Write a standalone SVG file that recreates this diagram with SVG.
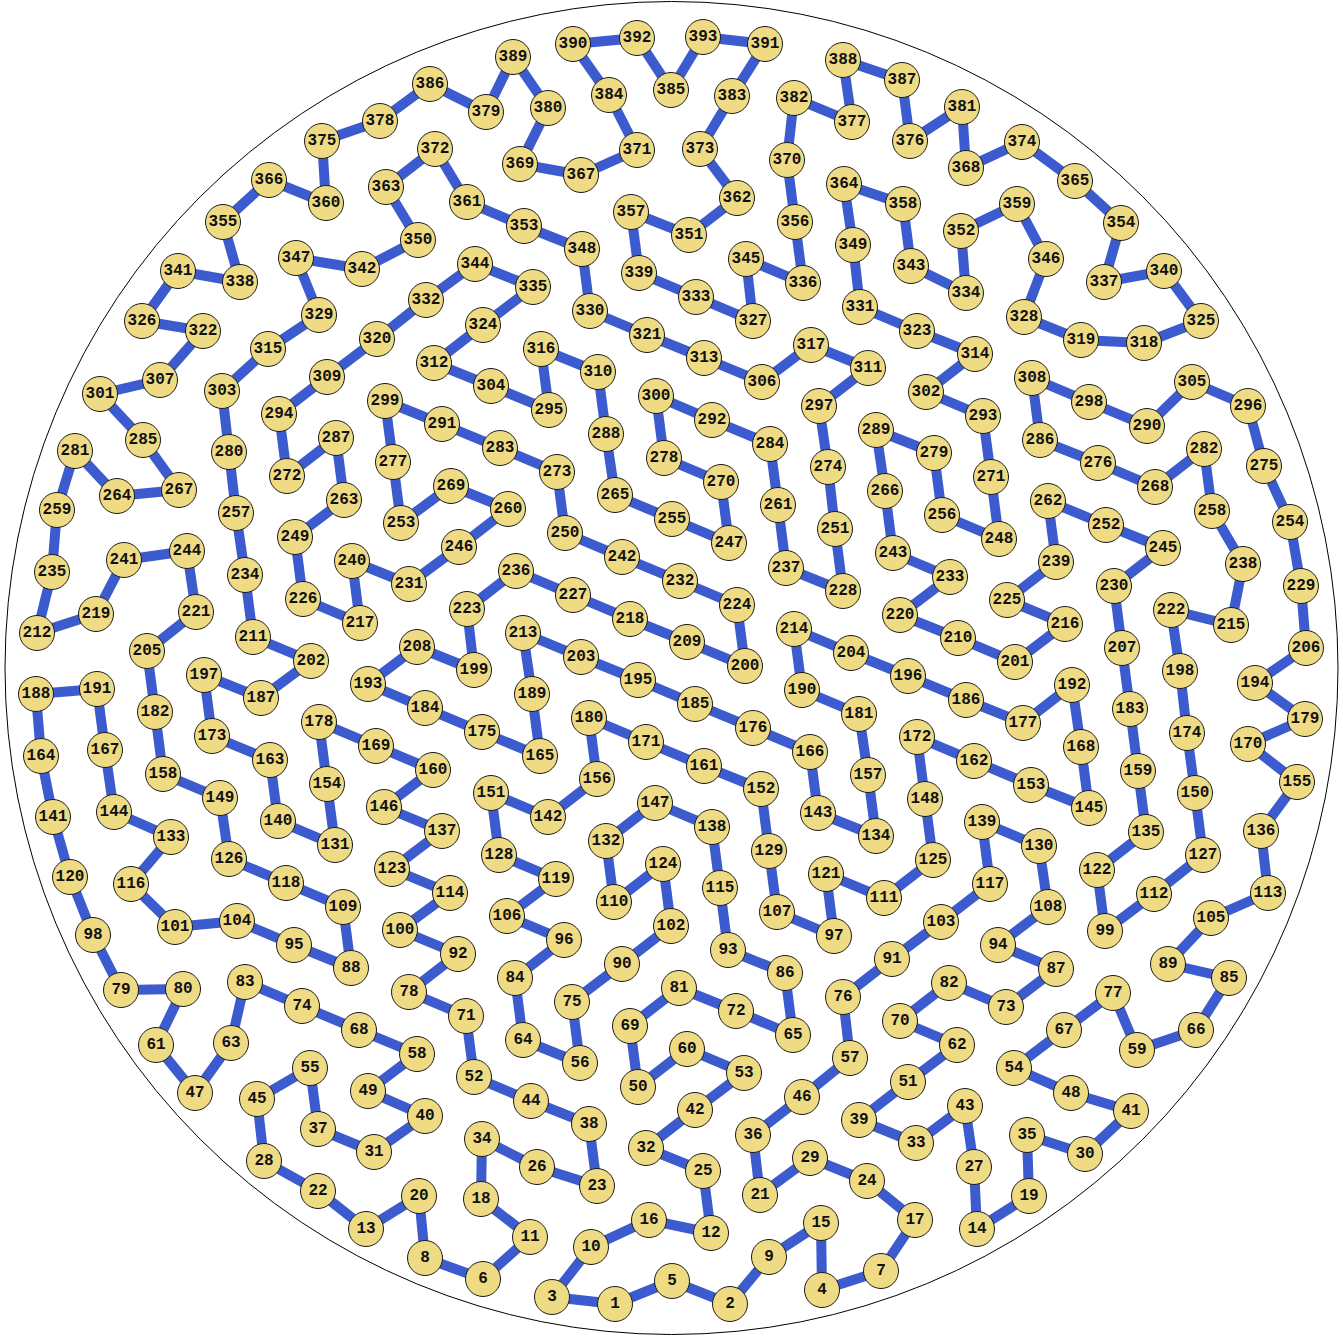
<svg xmlns="http://www.w3.org/2000/svg" width="1343" height="1336" viewBox="0 0 1343 1336">
<style>
.e line{stroke:#3b5bcf;stroke-width:10}
.n circle{fill:#efdb83;stroke:#1a1a1a;stroke-width:1}
.n text{font-family:"Liberation Mono","DejaVu Sans Mono",monospace;font-weight:bold;font-size:16px;text-anchor:middle;dominant-baseline:central;fill:#111}
</style>
<rect width="1343" height="1336" fill="#fff"/>
<circle cx="671.5" cy="668" r="666.5" fill="none" stroke="#000" stroke-width="1"/>
<g id="connectors" class="e">
<line x1="552" y1="1297" x2="615" y2="1304"/><line x1="615" y1="1304" x2="672" y2="1281"/><line x1="672" y1="1281" x2="730" y2="1304"/><line x1="730" y1="1304" x2="769" y2="1257"/><line x1="769" y1="1257" x2="821" y2="1223"/><line x1="821" y1="1223" x2="822" y2="1290"/><line x1="822" y1="1290" x2="881" y2="1271"/><line x1="881" y1="1271" x2="915" y2="1220"/><line x1="915" y1="1220" x2="867" y2="1181"/><line x1="867" y1="1181" x2="810" y2="1158"/>
<line x1="810" y1="1158" x2="760" y2="1195"/><line x1="760" y1="1195" x2="753" y2="1135"/><line x1="753" y1="1135" x2="802" y2="1097"/><line x1="802" y1="1097" x2="850" y2="1058"/><line x1="850" y1="1058" x2="843" y2="997"/><line x1="843" y1="997" x2="892" y2="959"/><line x1="892" y1="959" x2="941" y2="922"/><line x1="941" y1="922" x2="990" y2="884"/><line x1="990" y1="884" x2="982" y2="822"/><line x1="982" y1="822" x2="1039" y2="846"/>
<line x1="1039" y1="846" x2="1048" y2="907"/><line x1="1048" y1="907" x2="998" y2="945"/><line x1="998" y1="945" x2="1056" y2="969"/><line x1="1056" y1="969" x2="1006" y2="1007"/><line x1="1006" y1="1007" x2="949" y2="983"/><line x1="949" y1="983" x2="900" y2="1021"/><line x1="900" y1="1021" x2="957" y2="1045"/><line x1="957" y1="1045" x2="908" y2="1082"/><line x1="908" y1="1082" x2="859" y2="1120"/><line x1="859" y1="1120" x2="916" y2="1143"/>
<line x1="916" y1="1143" x2="965" y2="1106"/><line x1="965" y1="1106" x2="974" y2="1167"/><line x1="974" y1="1167" x2="977" y2="1229"/><line x1="977" y1="1229" x2="1029" y2="1196"/><line x1="1029" y1="1196" x2="1027" y2="1135"/><line x1="1027" y1="1135" x2="1085" y2="1154"/><line x1="1085" y1="1154" x2="1131" y2="1111"/><line x1="1131" y1="1111" x2="1071" y2="1093"/><line x1="1071" y1="1093" x2="1014" y2="1068"/><line x1="1014" y1="1068" x2="1064" y2="1030"/>
<line x1="1064" y1="1030" x2="1113" y2="993"/><line x1="1113" y1="993" x2="1137" y2="1050"/><line x1="1137" y1="1050" x2="1196" y2="1030"/><line x1="1196" y1="1030" x2="1229" y2="978"/><line x1="1229" y1="978" x2="1168" y2="964"/><line x1="1168" y1="964" x2="1211" y2="918"/><line x1="1211" y1="918" x2="1268" y2="893"/><line x1="1268" y1="893" x2="1261" y2="831"/><line x1="1261" y1="831" x2="1297" y2="782"/><line x1="1297" y1="782" x2="1248" y2="744"/>
<line x1="1248" y1="744" x2="1305" y2="719"/><line x1="1305" y1="719" x2="1255" y2="683"/><line x1="1255" y1="683" x2="1306" y2="648"/><line x1="1306" y1="648" x2="1301" y2="586"/><line x1="1301" y1="586" x2="1290" y2="522"/><line x1="1290" y1="522" x2="1264" y2="466"/><line x1="1264" y1="466" x2="1248" y2="406"/><line x1="1248" y1="406" x2="1192" y2="382"/><line x1="1192" y1="382" x2="1147" y2="426"/><line x1="1147" y1="426" x2="1089" y2="402"/>
<line x1="1089" y1="402" x2="1032" y2="378"/><line x1="1032" y1="378" x2="1040" y2="440"/><line x1="1040" y1="440" x2="1098" y2="463"/><line x1="1098" y1="463" x2="1155" y2="487"/><line x1="1155" y1="487" x2="1204" y2="449"/><line x1="1204" y1="449" x2="1212" y2="511"/><line x1="1212" y1="511" x2="1243" y2="564"/><line x1="1243" y1="564" x2="1231" y2="625"/><line x1="1231" y1="625" x2="1171" y2="610"/><line x1="1171" y1="610" x2="1180" y2="671"/>
<line x1="1180" y1="671" x2="1187" y2="733"/><line x1="1187" y1="733" x2="1195" y2="793"/><line x1="1195" y1="793" x2="1203" y2="855"/><line x1="1203" y1="855" x2="1154" y2="894"/><line x1="1154" y1="894" x2="1105" y2="931"/><line x1="1105" y1="931" x2="1097" y2="870"/><line x1="1097" y1="870" x2="1146" y2="832"/><line x1="1146" y1="832" x2="1138" y2="771"/><line x1="1138" y1="771" x2="1130" y2="709"/><line x1="1130" y1="709" x2="1122" y2="648"/>
<line x1="1122" y1="648" x2="1114" y2="586"/><line x1="1114" y1="586" x2="1163" y2="548"/><line x1="1163" y1="548" x2="1106" y2="525"/><line x1="1106" y1="525" x2="1048" y2="501"/><line x1="1048" y1="501" x2="1056" y2="562"/><line x1="1056" y1="562" x2="1007" y2="600"/><line x1="1007" y1="600" x2="1065" y2="624"/><line x1="1065" y1="624" x2="1015" y2="662"/><line x1="1015" y1="662" x2="958" y2="638"/><line x1="958" y1="638" x2="900" y2="615"/>
<line x1="900" y1="615" x2="950" y2="577"/><line x1="950" y1="577" x2="893" y2="553"/><line x1="893" y1="553" x2="885" y2="491"/><line x1="885" y1="491" x2="876" y2="430"/><line x1="876" y1="430" x2="934" y2="453"/><line x1="934" y1="453" x2="942" y2="515"/><line x1="942" y1="515" x2="999" y2="539"/><line x1="999" y1="539" x2="991" y2="477"/><line x1="991" y1="477" x2="983" y2="416"/><line x1="983" y1="416" x2="926" y2="392"/>
<line x1="926" y1="392" x2="975" y2="354"/><line x1="975" y1="354" x2="917" y2="331"/><line x1="917" y1="331" x2="860" y2="307"/><line x1="860" y1="307" x2="853" y2="245"/><line x1="853" y1="245" x2="844" y2="184"/><line x1="844" y1="184" x2="903" y2="204"/><line x1="903" y1="204" x2="911" y2="266"/><line x1="911" y1="266" x2="966" y2="293"/><line x1="966" y1="293" x2="961" y2="231"/><line x1="961" y1="231" x2="1017" y2="204"/>
<line x1="1017" y1="204" x2="1046" y2="259"/><line x1="1046" y1="259" x2="1024" y2="317"/><line x1="1024" y1="317" x2="1081" y2="340"/><line x1="1081" y1="340" x2="1144" y2="343"/><line x1="1144" y1="343" x2="1201" y2="321"/><line x1="1201" y1="321" x2="1164" y2="271"/><line x1="1164" y1="271" x2="1104" y2="282"/><line x1="1104" y1="282" x2="1121" y2="223"/><line x1="1121" y1="223" x2="1075" y2="181"/><line x1="1075" y1="181" x2="1022" y2="142"/>
<line x1="1022" y1="142" x2="966" y2="168"/><line x1="966" y1="168" x2="962" y2="107"/><line x1="962" y1="107" x2="910" y2="141"/><line x1="910" y1="141" x2="902" y2="80"/><line x1="902" y1="80" x2="843" y2="60"/><line x1="843" y1="60" x2="852" y2="122"/><line x1="852" y1="122" x2="794" y2="98"/><line x1="794" y1="98" x2="787" y2="160"/><line x1="787" y1="160" x2="795" y2="222"/><line x1="795" y1="222" x2="803" y2="283"/>
<line x1="803" y1="283" x2="746" y2="259"/><line x1="746" y1="259" x2="753" y2="321"/><line x1="753" y1="321" x2="696" y2="297"/><line x1="696" y1="297" x2="639" y2="273"/><line x1="639" y1="273" x2="631" y2="212"/><line x1="631" y1="212" x2="689" y2="235"/><line x1="689" y1="235" x2="737" y2="198"/><line x1="737" y1="198" x2="700" y2="149"/><line x1="700" y1="149" x2="732" y2="96"/><line x1="732" y1="96" x2="765" y2="44"/>
<line x1="765" y1="44" x2="703" y2="37"/><line x1="703" y1="37" x2="671" y2="90"/><line x1="671" y1="90" x2="637" y2="38"/><line x1="637" y1="38" x2="573" y2="44"/><line x1="573" y1="44" x2="609" y2="95"/><line x1="609" y1="95" x2="637" y2="150"/><line x1="637" y1="150" x2="581" y2="175"/><line x1="581" y1="175" x2="520" y2="164"/><line x1="520" y1="164" x2="548" y2="108"/><line x1="548" y1="108" x2="513" y2="57"/>
<line x1="513" y1="57" x2="486" y2="112"/><line x1="486" y1="112" x2="430" y2="84"/><line x1="430" y1="84" x2="380" y2="121"/><line x1="380" y1="121" x2="322" y2="141"/><line x1="322" y1="141" x2="326" y2="203"/><line x1="326" y1="203" x2="269" y2="180"/><line x1="269" y1="180" x2="223" y2="222"/><line x1="223" y1="222" x2="240" y2="282"/><line x1="240" y1="282" x2="178" y2="271"/><line x1="178" y1="271" x2="142" y2="321"/>
<line x1="142" y1="321" x2="203" y2="331"/><line x1="203" y1="331" x2="160" y2="380"/><line x1="160" y1="380" x2="100" y2="394"/><line x1="100" y1="394" x2="143" y2="440"/><line x1="143" y1="440" x2="179" y2="490"/><line x1="179" y1="490" x2="117" y2="496"/><line x1="117" y1="496" x2="75" y2="451"/><line x1="75" y1="451" x2="57" y2="510"/><line x1="57" y1="510" x2="52" y2="572"/><line x1="52" y1="572" x2="37" y2="633"/>
<line x1="37" y1="633" x2="96" y2="614"/><line x1="96" y1="614" x2="124" y2="560"/><line x1="124" y1="560" x2="187" y2="551"/><line x1="187" y1="551" x2="196" y2="612"/><line x1="196" y1="612" x2="147" y2="651"/><line x1="147" y1="651" x2="155" y2="712"/><line x1="155" y1="712" x2="163" y2="774"/><line x1="163" y1="774" x2="220" y2="798"/><line x1="220" y1="798" x2="229" y2="859"/><line x1="229" y1="859" x2="286" y2="883"/>
<line x1="286" y1="883" x2="343" y2="907"/><line x1="343" y1="907" x2="351" y2="968"/><line x1="351" y1="968" x2="294" y2="945"/><line x1="294" y1="945" x2="237" y2="921"/><line x1="237" y1="921" x2="175" y2="927"/><line x1="175" y1="927" x2="131" y2="884"/><line x1="131" y1="884" x2="171" y2="837"/><line x1="171" y1="837" x2="114" y2="812"/><line x1="114" y1="812" x2="105" y2="750"/><line x1="105" y1="750" x2="97" y2="689"/>
<line x1="97" y1="689" x2="36" y2="694"/><line x1="36" y1="694" x2="41" y2="756"/><line x1="41" y1="756" x2="53" y2="817"/><line x1="53" y1="817" x2="70" y2="877"/><line x1="70" y1="877" x2="93" y2="935"/><line x1="93" y1="935" x2="121" y2="990"/><line x1="121" y1="990" x2="183" y2="989"/><line x1="183" y1="989" x2="156" y2="1045"/><line x1="156" y1="1045" x2="195" y2="1093"/><line x1="195" y1="1093" x2="231" y2="1043"/>
<line x1="231" y1="1043" x2="245" y2="982"/><line x1="245" y1="982" x2="302" y2="1006"/><line x1="302" y1="1006" x2="359" y2="1030"/><line x1="359" y1="1030" x2="417" y2="1054"/><line x1="417" y1="1054" x2="368" y2="1091"/><line x1="368" y1="1091" x2="425" y2="1116"/><line x1="425" y1="1116" x2="374" y2="1152"/><line x1="374" y1="1152" x2="318" y2="1129"/><line x1="318" y1="1129" x2="310" y2="1068"/><line x1="310" y1="1068" x2="257" y2="1099"/>
<line x1="257" y1="1099" x2="264" y2="1161"/><line x1="264" y1="1161" x2="318" y2="1191"/><line x1="318" y1="1191" x2="366" y2="1229"/><line x1="366" y1="1229" x2="419" y2="1196"/><line x1="419" y1="1196" x2="425" y2="1258"/><line x1="425" y1="1258" x2="483" y2="1279"/><line x1="483" y1="1279" x2="530" y2="1237"/><line x1="530" y1="1237" x2="481" y2="1199"/><line x1="481" y1="1199" x2="482" y2="1139"/><line x1="482" y1="1139" x2="537" y2="1167"/>
<line x1="537" y1="1167" x2="597" y2="1186"/><line x1="597" y1="1186" x2="589" y2="1124"/><line x1="589" y1="1124" x2="531" y2="1101"/><line x1="531" y1="1101" x2="474" y2="1077"/><line x1="474" y1="1077" x2="466" y2="1016"/><line x1="466" y1="1016" x2="409" y2="992"/><line x1="409" y1="992" x2="458" y2="954"/><line x1="458" y1="954" x2="400" y2="930"/><line x1="400" y1="930" x2="450" y2="893"/><line x1="450" y1="893" x2="392" y2="869"/>
<line x1="392" y1="869" x2="442" y2="831"/><line x1="442" y1="831" x2="384" y2="807"/><line x1="384" y1="807" x2="433" y2="770"/><line x1="433" y1="770" x2="376" y2="746"/><line x1="376" y1="746" x2="319" y2="722"/><line x1="319" y1="722" x2="327" y2="784"/><line x1="327" y1="784" x2="335" y2="845"/><line x1="335" y1="845" x2="278" y2="821"/><line x1="278" y1="821" x2="270" y2="760"/><line x1="270" y1="760" x2="212" y2="736"/>
<line x1="212" y1="736" x2="204" y2="675"/><line x1="204" y1="675" x2="261" y2="698"/><line x1="261" y1="698" x2="311" y2="661"/><line x1="311" y1="661" x2="253" y2="637"/><line x1="253" y1="637" x2="245" y2="575"/><line x1="245" y1="575" x2="236" y2="513"/><line x1="236" y1="513" x2="229" y2="452"/><line x1="229" y1="452" x2="222" y2="391"/><line x1="222" y1="391" x2="268" y2="349"/><line x1="268" y1="349" x2="319" y2="315"/>
<line x1="319" y1="315" x2="296" y2="258"/><line x1="296" y1="258" x2="362" y2="269"/><line x1="362" y1="269" x2="418" y2="240"/><line x1="418" y1="240" x2="386" y2="187"/><line x1="386" y1="187" x2="435" y2="149"/><line x1="435" y1="149" x2="467" y2="202"/><line x1="467" y1="202" x2="524" y2="226"/><line x1="524" y1="226" x2="582" y2="249"/><line x1="582" y1="249" x2="590" y2="311"/><line x1="590" y1="311" x2="647" y2="335"/>
<line x1="647" y1="335" x2="704" y2="358"/><line x1="704" y1="358" x2="762" y2="382"/><line x1="762" y1="382" x2="811" y2="345"/><line x1="811" y1="345" x2="868" y2="368"/><line x1="868" y1="368" x2="819" y2="406"/><line x1="819" y1="406" x2="828" y2="467"/><line x1="828" y1="467" x2="835" y2="529"/><line x1="835" y1="529" x2="843" y2="591"/><line x1="843" y1="591" x2="786" y2="568"/><line x1="786" y1="568" x2="778" y2="505"/>
<line x1="778" y1="505" x2="770" y2="444"/><line x1="770" y1="444" x2="712" y2="420"/><line x1="712" y1="420" x2="656" y2="396"/><line x1="656" y1="396" x2="664" y2="458"/><line x1="664" y1="458" x2="721" y2="482"/><line x1="721" y1="482" x2="729" y2="543"/><line x1="729" y1="543" x2="672" y2="519"/><line x1="672" y1="519" x2="615" y2="495"/><line x1="615" y1="495" x2="606" y2="434"/><line x1="606" y1="434" x2="598" y2="372"/>
<line x1="598" y1="372" x2="541" y2="349"/><line x1="541" y1="349" x2="549" y2="410"/><line x1="549" y1="410" x2="491" y2="386"/><line x1="491" y1="386" x2="434" y2="363"/><line x1="434" y1="363" x2="483" y2="325"/><line x1="483" y1="325" x2="533" y2="287"/><line x1="533" y1="287" x2="475" y2="264"/><line x1="475" y1="264" x2="426" y2="300"/><line x1="426" y1="300" x2="377" y2="339"/><line x1="377" y1="339" x2="327" y2="377"/>
<line x1="327" y1="377" x2="279" y2="414"/><line x1="279" y1="414" x2="287" y2="476"/><line x1="287" y1="476" x2="336" y2="438"/><line x1="336" y1="438" x2="344" y2="500"/><line x1="344" y1="500" x2="295" y2="537"/><line x1="295" y1="537" x2="303" y2="599"/><line x1="303" y1="599" x2="360" y2="623"/><line x1="360" y1="623" x2="352" y2="561"/><line x1="352" y1="561" x2="409" y2="584"/><line x1="409" y1="584" x2="459" y2="547"/>
<line x1="459" y1="547" x2="508" y2="509"/><line x1="508" y1="509" x2="451" y2="486"/><line x1="451" y1="486" x2="401" y2="523"/><line x1="401" y1="523" x2="393" y2="462"/><line x1="393" y1="462" x2="385" y2="401"/><line x1="385" y1="401" x2="442" y2="424"/><line x1="442" y1="424" x2="500" y2="448"/><line x1="500" y1="448" x2="557" y2="472"/><line x1="557" y1="472" x2="565" y2="533"/><line x1="565" y1="533" x2="622" y2="557"/>
<line x1="622" y1="557" x2="680" y2="581"/><line x1="680" y1="581" x2="737" y2="605"/><line x1="737" y1="605" x2="745" y2="666"/><line x1="745" y1="666" x2="687" y2="642"/><line x1="687" y1="642" x2="630" y2="619"/><line x1="630" y1="619" x2="573" y2="595"/><line x1="573" y1="595" x2="516" y2="571"/><line x1="516" y1="571" x2="467" y2="609"/><line x1="467" y1="609" x2="474" y2="670"/><line x1="474" y1="670" x2="417" y2="647"/>
<line x1="417" y1="647" x2="368" y2="684"/><line x1="368" y1="684" x2="425" y2="708"/><line x1="425" y1="708" x2="482" y2="732"/><line x1="482" y1="732" x2="540" y2="756"/><line x1="540" y1="756" x2="532" y2="694"/><line x1="532" y1="694" x2="523" y2="633"/><line x1="523" y1="633" x2="581" y2="657"/><line x1="581" y1="657" x2="638" y2="680"/><line x1="638" y1="680" x2="695" y2="704"/><line x1="695" y1="704" x2="753" y2="728"/>
<line x1="753" y1="728" x2="810" y2="752"/><line x1="810" y1="752" x2="818" y2="813"/><line x1="818" y1="813" x2="876" y2="836"/><line x1="876" y1="836" x2="868" y2="775"/><line x1="868" y1="775" x2="859" y2="714"/><line x1="859" y1="714" x2="802" y2="690"/><line x1="802" y1="690" x2="794" y2="629"/><line x1="794" y1="629" x2="851" y2="653"/><line x1="851" y1="653" x2="908" y2="676"/><line x1="908" y1="676" x2="966" y2="700"/>
<line x1="966" y1="700" x2="1023" y2="723"/><line x1="1023" y1="723" x2="1072" y2="685"/><line x1="1072" y1="685" x2="1081" y2="747"/><line x1="1081" y1="747" x2="1089" y2="808"/><line x1="1089" y1="808" x2="1031" y2="785"/><line x1="1031" y1="785" x2="974" y2="761"/><line x1="974" y1="761" x2="917" y2="737"/><line x1="917" y1="737" x2="925" y2="799"/><line x1="925" y1="799" x2="933" y2="860"/><line x1="933" y1="860" x2="884" y2="898"/>
<line x1="884" y1="898" x2="826" y2="874"/><line x1="826" y1="874" x2="834" y2="936"/><line x1="834" y1="936" x2="777" y2="912"/><line x1="777" y1="912" x2="769" y2="851"/><line x1="769" y1="851" x2="761" y2="789"/><line x1="761" y1="789" x2="704" y2="766"/><line x1="704" y1="766" x2="646" y2="742"/><line x1="646" y1="742" x2="589" y2="718"/><line x1="589" y1="718" x2="597" y2="779"/><line x1="597" y1="779" x2="548" y2="817"/>
<line x1="548" y1="817" x2="491" y2="793"/><line x1="491" y1="793" x2="499" y2="855"/><line x1="499" y1="855" x2="556" y2="879"/><line x1="556" y1="879" x2="507" y2="916"/><line x1="507" y1="916" x2="564" y2="940"/><line x1="564" y1="940" x2="515" y2="978"/><line x1="515" y1="978" x2="523" y2="1040"/><line x1="523" y1="1040" x2="580" y2="1063"/><line x1="580" y1="1063" x2="572" y2="1002"/><line x1="572" y1="1002" x2="622" y2="964"/>
<line x1="622" y1="964" x2="671" y2="926"/><line x1="671" y1="926" x2="663" y2="864"/><line x1="663" y1="864" x2="614" y2="902"/><line x1="614" y1="902" x2="606" y2="841"/><line x1="606" y1="841" x2="655" y2="803"/><line x1="655" y1="803" x2="712" y2="827"/><line x1="712" y1="827" x2="720" y2="888"/><line x1="720" y1="888" x2="728" y2="950"/><line x1="728" y1="950" x2="785" y2="973"/><line x1="785" y1="973" x2="793" y2="1035"/>
<line x1="793" y1="1035" x2="736" y2="1011"/><line x1="736" y1="1011" x2="679" y2="988"/><line x1="679" y1="988" x2="630" y2="1026"/><line x1="630" y1="1026" x2="638" y2="1087"/><line x1="638" y1="1087" x2="687" y2="1049"/><line x1="687" y1="1049" x2="744" y2="1073"/><line x1="744" y1="1073" x2="695" y2="1110"/><line x1="695" y1="1110" x2="646" y2="1148"/><line x1="646" y1="1148" x2="703" y2="1171"/><line x1="703" y1="1171" x2="711" y2="1233"/>
<line x1="711" y1="1233" x2="649" y2="1220"/><line x1="649" y1="1220" x2="591" y2="1247"/><line x1="591" y1="1247" x2="552" y2="1297"/>
</g>
<g id="nodes" class="n">
<g id="n1"><circle cx="615" cy="1304" r="17.5"/><text x="615" y="1304">1</text></g>
<g id="n2"><circle cx="730" cy="1304" r="17.5"/><text x="730" y="1304">2</text></g>
<g id="n3"><circle cx="552" cy="1297" r="17.5"/><text x="552" y="1297">3</text></g>
<g id="n4"><circle cx="822" cy="1290" r="17.5"/><text x="822" y="1290">4</text></g>
<g id="n5"><circle cx="672" cy="1281" r="17.5"/><text x="672" y="1281">5</text></g>
<g id="n6"><circle cx="483" cy="1279" r="17.5"/><text x="483" y="1279">6</text></g>
<g id="n7"><circle cx="881" cy="1271" r="17.5"/><text x="881" y="1271">7</text></g>
<g id="n8"><circle cx="425" cy="1258" r="17.5"/><text x="425" y="1258">8</text></g>
<g id="n9"><circle cx="769" cy="1257" r="17.5"/><text x="769" y="1257">9</text></g>
<g id="n10"><circle cx="591" cy="1247" r="17.5"/><text x="591" y="1247">10</text></g>
<g id="n11"><circle cx="530" cy="1237" r="17.5"/><text x="530" y="1237">11</text></g>
<g id="n12"><circle cx="711" cy="1233" r="17.5"/><text x="711" y="1233">12</text></g>
<g id="n13"><circle cx="366" cy="1229" r="17.5"/><text x="366" y="1229">13</text></g>
<g id="n14"><circle cx="977" cy="1229" r="17.5"/><text x="977" y="1229">14</text></g>
<g id="n15"><circle cx="821" cy="1223" r="17.5"/><text x="821" y="1223">15</text></g>
<g id="n16"><circle cx="649" cy="1220" r="17.5"/><text x="649" y="1220">16</text></g>
<g id="n17"><circle cx="915" cy="1220" r="17.5"/><text x="915" y="1220">17</text></g>
<g id="n18"><circle cx="481" cy="1199" r="17.5"/><text x="481" y="1199">18</text></g>
<g id="n19"><circle cx="1029" cy="1196" r="17.5"/><text x="1029" y="1196">19</text></g>
<g id="n20"><circle cx="419" cy="1196" r="17.5"/><text x="419" y="1196">20</text></g>
<g id="n21"><circle cx="760" cy="1195" r="17.5"/><text x="760" y="1195">21</text></g>
<g id="n22"><circle cx="318" cy="1191" r="17.5"/><text x="318" y="1191">22</text></g>
<g id="n23"><circle cx="597" cy="1186" r="17.5"/><text x="597" y="1186">23</text></g>
<g id="n24"><circle cx="867" cy="1181" r="17.5"/><text x="867" y="1181">24</text></g>
<g id="n25"><circle cx="703" cy="1171" r="17.5"/><text x="703" y="1171">25</text></g>
<g id="n26"><circle cx="537" cy="1167" r="17.5"/><text x="537" y="1167">26</text></g>
<g id="n27"><circle cx="974" cy="1167" r="17.5"/><text x="974" y="1167">27</text></g>
<g id="n28"><circle cx="264" cy="1161" r="17.5"/><text x="264" y="1161">28</text></g>
<g id="n29"><circle cx="810" cy="1158" r="17.5"/><text x="810" y="1158">29</text></g>
<g id="n30"><circle cx="1085" cy="1154" r="17.5"/><text x="1085" y="1154">30</text></g>
<g id="n31"><circle cx="374" cy="1152" r="17.5"/><text x="374" y="1152">31</text></g>
<g id="n32"><circle cx="646" cy="1148" r="17.5"/><text x="646" y="1148">32</text></g>
<g id="n33"><circle cx="916" cy="1143" r="17.5"/><text x="916" y="1143">33</text></g>
<g id="n34"><circle cx="482" cy="1139" r="17.5"/><text x="482" y="1139">34</text></g>
<g id="n35"><circle cx="1027" cy="1135" r="17.5"/><text x="1027" y="1135">35</text></g>
<g id="n36"><circle cx="753" cy="1135" r="17.5"/><text x="753" y="1135">36</text></g>
<g id="n37"><circle cx="318" cy="1129" r="17.5"/><text x="318" y="1129">37</text></g>
<g id="n38"><circle cx="589" cy="1124" r="17.5"/><text x="589" y="1124">38</text></g>
<g id="n39"><circle cx="859" cy="1120" r="17.5"/><text x="859" y="1120">39</text></g>
<g id="n40"><circle cx="425" cy="1116" r="17.5"/><text x="425" y="1116">40</text></g>
<g id="n41"><circle cx="1131" cy="1111" r="17.5"/><text x="1131" y="1111">41</text></g>
<g id="n42"><circle cx="695" cy="1110" r="17.5"/><text x="695" y="1110">42</text></g>
<g id="n43"><circle cx="965" cy="1106" r="17.5"/><text x="965" y="1106">43</text></g>
<g id="n44"><circle cx="531" cy="1101" r="17.5"/><text x="531" y="1101">44</text></g>
<g id="n45"><circle cx="257" cy="1099" r="17.5"/><text x="257" y="1099">45</text></g>
<g id="n46"><circle cx="802" cy="1097" r="17.5"/><text x="802" y="1097">46</text></g>
<g id="n47"><circle cx="195" cy="1093" r="17.5"/><text x="195" y="1093">47</text></g>
<g id="n48"><circle cx="1071" cy="1093" r="17.5"/><text x="1071" y="1093">48</text></g>
<g id="n49"><circle cx="368" cy="1091" r="17.5"/><text x="368" y="1091">49</text></g>
<g id="n50"><circle cx="638" cy="1087" r="17.5"/><text x="638" y="1087">50</text></g>
<g id="n51"><circle cx="908" cy="1082" r="17.5"/><text x="908" y="1082">51</text></g>
<g id="n52"><circle cx="474" cy="1077" r="17.5"/><text x="474" y="1077">52</text></g>
<g id="n53"><circle cx="744" cy="1073" r="17.5"/><text x="744" y="1073">53</text></g>
<g id="n54"><circle cx="1014" cy="1068" r="17.5"/><text x="1014" y="1068">54</text></g>
<g id="n55"><circle cx="310" cy="1068" r="17.5"/><text x="310" y="1068">55</text></g>
<g id="n56"><circle cx="580" cy="1063" r="17.5"/><text x="580" y="1063">56</text></g>
<g id="n57"><circle cx="850" cy="1058" r="17.5"/><text x="850" y="1058">57</text></g>
<g id="n58"><circle cx="417" cy="1054" r="17.5"/><text x="417" y="1054">58</text></g>
<g id="n59"><circle cx="1137" cy="1050" r="17.5"/><text x="1137" y="1050">59</text></g>
<g id="n60"><circle cx="687" cy="1049" r="17.5"/><text x="687" y="1049">60</text></g>
<g id="n61"><circle cx="156" cy="1045" r="17.5"/><text x="156" y="1045">61</text></g>
<g id="n62"><circle cx="957" cy="1045" r="17.5"/><text x="957" y="1045">62</text></g>
<g id="n63"><circle cx="231" cy="1043" r="17.5"/><text x="231" y="1043">63</text></g>
<g id="n64"><circle cx="523" cy="1040" r="17.5"/><text x="523" y="1040">64</text></g>
<g id="n65"><circle cx="793" cy="1035" r="17.5"/><text x="793" y="1035">65</text></g>
<g id="n66"><circle cx="1196" cy="1030" r="17.5"/><text x="1196" y="1030">66</text></g>
<g id="n67"><circle cx="1064" cy="1030" r="17.5"/><text x="1064" y="1030">67</text></g>
<g id="n68"><circle cx="359" cy="1030" r="17.5"/><text x="359" y="1030">68</text></g>
<g id="n69"><circle cx="630" cy="1026" r="17.5"/><text x="630" y="1026">69</text></g>
<g id="n70"><circle cx="900" cy="1021" r="17.5"/><text x="900" y="1021">70</text></g>
<g id="n71"><circle cx="466" cy="1016" r="17.5"/><text x="466" y="1016">71</text></g>
<g id="n72"><circle cx="736" cy="1011" r="17.5"/><text x="736" y="1011">72</text></g>
<g id="n73"><circle cx="1006" cy="1007" r="17.5"/><text x="1006" y="1007">73</text></g>
<g id="n74"><circle cx="302" cy="1006" r="17.5"/><text x="302" y="1006">74</text></g>
<g id="n75"><circle cx="572" cy="1002" r="17.5"/><text x="572" y="1002">75</text></g>
<g id="n76"><circle cx="843" cy="997" r="17.5"/><text x="843" y="997">76</text></g>
<g id="n77"><circle cx="1113" cy="993" r="17.5"/><text x="1113" y="993">77</text></g>
<g id="n78"><circle cx="409" cy="992" r="17.5"/><text x="409" y="992">78</text></g>
<g id="n79"><circle cx="121" cy="990" r="17.5"/><text x="121" y="990">79</text></g>
<g id="n80"><circle cx="183" cy="989" r="17.5"/><text x="183" y="989">80</text></g>
<g id="n81"><circle cx="679" cy="988" r="17.5"/><text x="679" y="988">81</text></g>
<g id="n82"><circle cx="949" cy="983" r="17.5"/><text x="949" y="983">82</text></g>
<g id="n83"><circle cx="245" cy="982" r="17.5"/><text x="245" y="982">83</text></g>
<g id="n84"><circle cx="515" cy="978" r="17.5"/><text x="515" y="978">84</text></g>
<g id="n85"><circle cx="1229" cy="978" r="17.5"/><text x="1229" y="978">85</text></g>
<g id="n86"><circle cx="785" cy="973" r="17.5"/><text x="785" y="973">86</text></g>
<g id="n87"><circle cx="1056" cy="969" r="17.5"/><text x="1056" y="969">87</text></g>
<g id="n88"><circle cx="351" cy="968" r="17.5"/><text x="351" y="968">88</text></g>
<g id="n89"><circle cx="1168" cy="964" r="17.5"/><text x="1168" y="964">89</text></g>
<g id="n90"><circle cx="622" cy="964" r="17.5"/><text x="622" y="964">90</text></g>
<g id="n91"><circle cx="892" cy="959" r="17.5"/><text x="892" y="959">91</text></g>
<g id="n92"><circle cx="458" cy="954" r="17.5"/><text x="458" y="954">92</text></g>
<g id="n93"><circle cx="728" cy="950" r="17.5"/><text x="728" y="950">93</text></g>
<g id="n94"><circle cx="998" cy="945" r="17.5"/><text x="998" y="945">94</text></g>
<g id="n95"><circle cx="294" cy="945" r="17.5"/><text x="294" y="945">95</text></g>
<g id="n96"><circle cx="564" cy="940" r="17.5"/><text x="564" y="940">96</text></g>
<g id="n97"><circle cx="834" cy="936" r="17.5"/><text x="834" y="936">97</text></g>
<g id="n98"><circle cx="93" cy="935" r="17.5"/><text x="93" y="935">98</text></g>
<g id="n99"><circle cx="1105" cy="931" r="17.5"/><text x="1105" y="931">99</text></g>
<g id="n100"><circle cx="400" cy="930" r="17.5"/><text x="400" y="930">100</text></g>
<g id="n101"><circle cx="175" cy="927" r="17.5"/><text x="175" y="927">101</text></g>
<g id="n102"><circle cx="671" cy="926" r="17.5"/><text x="671" y="926">102</text></g>
<g id="n103"><circle cx="941" cy="922" r="17.5"/><text x="941" y="922">103</text></g>
<g id="n104"><circle cx="237" cy="921" r="17.5"/><text x="237" y="921">104</text></g>
<g id="n105"><circle cx="1211" cy="918" r="17.5"/><text x="1211" y="918">105</text></g>
<g id="n106"><circle cx="507" cy="916" r="17.5"/><text x="507" y="916">106</text></g>
<g id="n107"><circle cx="777" cy="912" r="17.5"/><text x="777" y="912">107</text></g>
<g id="n108"><circle cx="1048" cy="907" r="17.5"/><text x="1048" y="907">108</text></g>
<g id="n109"><circle cx="343" cy="907" r="17.5"/><text x="343" y="907">109</text></g>
<g id="n110"><circle cx="614" cy="902" r="17.5"/><text x="614" y="902">110</text></g>
<g id="n111"><circle cx="884" cy="898" r="17.5"/><text x="884" y="898">111</text></g>
<g id="n112"><circle cx="1154" cy="894" r="17.5"/><text x="1154" y="894">112</text></g>
<g id="n113"><circle cx="1268" cy="893" r="17.5"/><text x="1268" y="893">113</text></g>
<g id="n114"><circle cx="450" cy="893" r="17.5"/><text x="450" y="893">114</text></g>
<g id="n115"><circle cx="720" cy="888" r="17.5"/><text x="720" y="888">115</text></g>
<g id="n116"><circle cx="131" cy="884" r="17.5"/><text x="131" y="884">116</text></g>
<g id="n117"><circle cx="990" cy="884" r="17.5"/><text x="990" y="884">117</text></g>
<g id="n118"><circle cx="286" cy="883" r="17.5"/><text x="286" y="883">118</text></g>
<g id="n119"><circle cx="556" cy="879" r="17.5"/><text x="556" y="879">119</text></g>
<g id="n120"><circle cx="70" cy="877" r="17.5"/><text x="70" y="877">120</text></g>
<g id="n121"><circle cx="826" cy="874" r="17.5"/><text x="826" y="874">121</text></g>
<g id="n122"><circle cx="1097" cy="870" r="17.5"/><text x="1097" y="870">122</text></g>
<g id="n123"><circle cx="392" cy="869" r="17.5"/><text x="392" y="869">123</text></g>
<g id="n124"><circle cx="663" cy="864" r="17.5"/><text x="663" y="864">124</text></g>
<g id="n125"><circle cx="933" cy="860" r="17.5"/><text x="933" y="860">125</text></g>
<g id="n126"><circle cx="229" cy="859" r="17.5"/><text x="229" y="859">126</text></g>
<g id="n127"><circle cx="1203" cy="855" r="17.5"/><text x="1203" y="855">127</text></g>
<g id="n128"><circle cx="499" cy="855" r="17.5"/><text x="499" y="855">128</text></g>
<g id="n129"><circle cx="769" cy="851" r="17.5"/><text x="769" y="851">129</text></g>
<g id="n130"><circle cx="1039" cy="846" r="17.5"/><text x="1039" y="846">130</text></g>
<g id="n131"><circle cx="335" cy="845" r="17.5"/><text x="335" y="845">131</text></g>
<g id="n132"><circle cx="606" cy="841" r="17.5"/><text x="606" y="841">132</text></g>
<g id="n133"><circle cx="171" cy="837" r="17.5"/><text x="171" y="837">133</text></g>
<g id="n134"><circle cx="876" cy="836" r="17.5"/><text x="876" y="836">134</text></g>
<g id="n135"><circle cx="1146" cy="832" r="17.5"/><text x="1146" y="832">135</text></g>
<g id="n136"><circle cx="1261" cy="831" r="17.5"/><text x="1261" y="831">136</text></g>
<g id="n137"><circle cx="442" cy="831" r="17.5"/><text x="442" y="831">137</text></g>
<g id="n138"><circle cx="712" cy="827" r="17.5"/><text x="712" y="827">138</text></g>
<g id="n139"><circle cx="982" cy="822" r="17.5"/><text x="982" y="822">139</text></g>
<g id="n140"><circle cx="278" cy="821" r="17.5"/><text x="278" y="821">140</text></g>
<g id="n141"><circle cx="53" cy="817" r="17.5"/><text x="53" y="817">141</text></g>
<g id="n142"><circle cx="548" cy="817" r="17.5"/><text x="548" y="817">142</text></g>
<g id="n143"><circle cx="818" cy="813" r="17.5"/><text x="818" y="813">143</text></g>
<g id="n144"><circle cx="114" cy="812" r="17.5"/><text x="114" y="812">144</text></g>
<g id="n145"><circle cx="1089" cy="808" r="17.5"/><text x="1089" y="808">145</text></g>
<g id="n146"><circle cx="384" cy="807" r="17.5"/><text x="384" y="807">146</text></g>
<g id="n147"><circle cx="655" cy="803" r="17.5"/><text x="655" y="803">147</text></g>
<g id="n148"><circle cx="925" cy="799" r="17.5"/><text x="925" y="799">148</text></g>
<g id="n149"><circle cx="220" cy="798" r="17.5"/><text x="220" y="798">149</text></g>
<g id="n150"><circle cx="1195" cy="793" r="17.5"/><text x="1195" y="793">150</text></g>
<g id="n151"><circle cx="491" cy="793" r="17.5"/><text x="491" y="793">151</text></g>
<g id="n152"><circle cx="761" cy="789" r="17.5"/><text x="761" y="789">152</text></g>
<g id="n153"><circle cx="1031" cy="785" r="17.5"/><text x="1031" y="785">153</text></g>
<g id="n154"><circle cx="327" cy="784" r="17.5"/><text x="327" y="784">154</text></g>
<g id="n155"><circle cx="1297" cy="782" r="17.5"/><text x="1297" y="782">155</text></g>
<g id="n156"><circle cx="597" cy="779" r="17.5"/><text x="597" y="779">156</text></g>
<g id="n157"><circle cx="868" cy="775" r="17.5"/><text x="868" y="775">157</text></g>
<g id="n158"><circle cx="163" cy="774" r="17.5"/><text x="163" y="774">158</text></g>
<g id="n159"><circle cx="1138" cy="771" r="17.5"/><text x="1138" y="771">159</text></g>
<g id="n160"><circle cx="433" cy="770" r="17.5"/><text x="433" y="770">160</text></g>
<g id="n161"><circle cx="704" cy="766" r="17.5"/><text x="704" y="766">161</text></g>
<g id="n162"><circle cx="974" cy="761" r="17.5"/><text x="974" y="761">162</text></g>
<g id="n163"><circle cx="270" cy="760" r="17.5"/><text x="270" y="760">163</text></g>
<g id="n164"><circle cx="41" cy="756" r="17.5"/><text x="41" y="756">164</text></g>
<g id="n165"><circle cx="540" cy="756" r="17.5"/><text x="540" y="756">165</text></g>
<g id="n166"><circle cx="810" cy="752" r="17.5"/><text x="810" y="752">166</text></g>
<g id="n167"><circle cx="105" cy="750" r="17.5"/><text x="105" y="750">167</text></g>
<g id="n168"><circle cx="1081" cy="747" r="17.5"/><text x="1081" y="747">168</text></g>
<g id="n169"><circle cx="376" cy="746" r="17.5"/><text x="376" y="746">169</text></g>
<g id="n170"><circle cx="1248" cy="744" r="17.5"/><text x="1248" y="744">170</text></g>
<g id="n171"><circle cx="646" cy="742" r="17.5"/><text x="646" y="742">171</text></g>
<g id="n172"><circle cx="917" cy="737" r="17.5"/><text x="917" y="737">172</text></g>
<g id="n173"><circle cx="212" cy="736" r="17.5"/><text x="212" y="736">173</text></g>
<g id="n174"><circle cx="1187" cy="733" r="17.5"/><text x="1187" y="733">174</text></g>
<g id="n175"><circle cx="482" cy="732" r="17.5"/><text x="482" y="732">175</text></g>
<g id="n176"><circle cx="753" cy="728" r="17.5"/><text x="753" y="728">176</text></g>
<g id="n177"><circle cx="1023" cy="723" r="17.5"/><text x="1023" y="723">177</text></g>
<g id="n178"><circle cx="319" cy="722" r="17.5"/><text x="319" y="722">178</text></g>
<g id="n179"><circle cx="1305" cy="719" r="17.5"/><text x="1305" y="719">179</text></g>
<g id="n180"><circle cx="589" cy="718" r="17.5"/><text x="589" y="718">180</text></g>
<g id="n181"><circle cx="859" cy="714" r="17.5"/><text x="859" y="714">181</text></g>
<g id="n182"><circle cx="155" cy="712" r="17.5"/><text x="155" y="712">182</text></g>
<g id="n183"><circle cx="1130" cy="709" r="17.5"/><text x="1130" y="709">183</text></g>
<g id="n184"><circle cx="425" cy="708" r="17.5"/><text x="425" y="708">184</text></g>
<g id="n185"><circle cx="695" cy="704" r="17.5"/><text x="695" y="704">185</text></g>
<g id="n186"><circle cx="966" cy="700" r="17.5"/><text x="966" y="700">186</text></g>
<g id="n187"><circle cx="261" cy="698" r="17.5"/><text x="261" y="698">187</text></g>
<g id="n188"><circle cx="36" cy="694" r="17.5"/><text x="36" y="694">188</text></g>
<g id="n189"><circle cx="532" cy="694" r="17.5"/><text x="532" y="694">189</text></g>
<g id="n190"><circle cx="802" cy="690" r="17.5"/><text x="802" y="690">190</text></g>
<g id="n191"><circle cx="97" cy="689" r="17.5"/><text x="97" y="689">191</text></g>
<g id="n192"><circle cx="1072" cy="685" r="17.5"/><text x="1072" y="685">192</text></g>
<g id="n193"><circle cx="368" cy="684" r="17.5"/><text x="368" y="684">193</text></g>
<g id="n194"><circle cx="1255" cy="683" r="17.5"/><text x="1255" y="683">194</text></g>
<g id="n195"><circle cx="638" cy="680" r="17.5"/><text x="638" y="680">195</text></g>
<g id="n196"><circle cx="908" cy="676" r="17.5"/><text x="908" y="676">196</text></g>
<g id="n197"><circle cx="204" cy="675" r="17.5"/><text x="204" y="675">197</text></g>
<g id="n198"><circle cx="1180" cy="671" r="17.5"/><text x="1180" y="671">198</text></g>
<g id="n199"><circle cx="474" cy="670" r="17.5"/><text x="474" y="670">199</text></g>
<g id="n200"><circle cx="745" cy="666" r="17.5"/><text x="745" y="666">200</text></g>
<g id="n201"><circle cx="1015" cy="662" r="17.5"/><text x="1015" y="662">201</text></g>
<g id="n202"><circle cx="311" cy="661" r="17.5"/><text x="311" y="661">202</text></g>
<g id="n203"><circle cx="581" cy="657" r="17.5"/><text x="581" y="657">203</text></g>
<g id="n204"><circle cx="851" cy="653" r="17.5"/><text x="851" y="653">204</text></g>
<g id="n205"><circle cx="147" cy="651" r="17.5"/><text x="147" y="651">205</text></g>
<g id="n206"><circle cx="1306" cy="648" r="17.5"/><text x="1306" y="648">206</text></g>
<g id="n207"><circle cx="1122" cy="648" r="17.5"/><text x="1122" y="648">207</text></g>
<g id="n208"><circle cx="417" cy="647" r="17.5"/><text x="417" y="647">208</text></g>
<g id="n209"><circle cx="687" cy="642" r="17.5"/><text x="687" y="642">209</text></g>
<g id="n210"><circle cx="958" cy="638" r="17.5"/><text x="958" y="638">210</text></g>
<g id="n211"><circle cx="253" cy="637" r="17.5"/><text x="253" y="637">211</text></g>
<g id="n212"><circle cx="37" cy="633" r="17.5"/><text x="37" y="633">212</text></g>
<g id="n213"><circle cx="523" cy="633" r="17.5"/><text x="523" y="633">213</text></g>
<g id="n214"><circle cx="794" cy="629" r="17.5"/><text x="794" y="629">214</text></g>
<g id="n215"><circle cx="1231" cy="625" r="17.5"/><text x="1231" y="625">215</text></g>
<g id="n216"><circle cx="1065" cy="624" r="17.5"/><text x="1065" y="624">216</text></g>
<g id="n217"><circle cx="360" cy="623" r="17.5"/><text x="360" y="623">217</text></g>
<g id="n218"><circle cx="630" cy="619" r="17.5"/><text x="630" y="619">218</text></g>
<g id="n219"><circle cx="96" cy="614" r="17.5"/><text x="96" y="614">219</text></g>
<g id="n220"><circle cx="900" cy="615" r="17.5"/><text x="900" y="615">220</text></g>
<g id="n221"><circle cx="196" cy="612" r="17.5"/><text x="196" y="612">221</text></g>
<g id="n222"><circle cx="1171" cy="610" r="17.5"/><text x="1171" y="610">222</text></g>
<g id="n223"><circle cx="467" cy="609" r="17.5"/><text x="467" y="609">223</text></g>
<g id="n224"><circle cx="737" cy="605" r="17.5"/><text x="737" y="605">224</text></g>
<g id="n225"><circle cx="1007" cy="600" r="17.5"/><text x="1007" y="600">225</text></g>
<g id="n226"><circle cx="303" cy="599" r="17.5"/><text x="303" y="599">226</text></g>
<g id="n227"><circle cx="573" cy="595" r="17.5"/><text x="573" y="595">227</text></g>
<g id="n228"><circle cx="843" cy="591" r="17.5"/><text x="843" y="591">228</text></g>
<g id="n229"><circle cx="1301" cy="586" r="17.5"/><text x="1301" y="586">229</text></g>
<g id="n230"><circle cx="1114" cy="586" r="17.5"/><text x="1114" y="586">230</text></g>
<g id="n231"><circle cx="409" cy="584" r="17.5"/><text x="409" y="584">231</text></g>
<g id="n232"><circle cx="680" cy="581" r="17.5"/><text x="680" y="581">232</text></g>
<g id="n233"><circle cx="950" cy="577" r="17.5"/><text x="950" y="577">233</text></g>
<g id="n234"><circle cx="245" cy="575" r="17.5"/><text x="245" y="575">234</text></g>
<g id="n235"><circle cx="52" cy="572" r="17.5"/><text x="52" y="572">235</text></g>
<g id="n236"><circle cx="516" cy="571" r="17.5"/><text x="516" y="571">236</text></g>
<g id="n237"><circle cx="786" cy="568" r="17.5"/><text x="786" y="568">237</text></g>
<g id="n238"><circle cx="1243" cy="564" r="17.5"/><text x="1243" y="564">238</text></g>
<g id="n239"><circle cx="1056" cy="562" r="17.5"/><text x="1056" y="562">239</text></g>
<g id="n240"><circle cx="352" cy="561" r="17.5"/><text x="352" y="561">240</text></g>
<g id="n241"><circle cx="124" cy="560" r="17.5"/><text x="124" y="560">241</text></g>
<g id="n242"><circle cx="622" cy="557" r="17.5"/><text x="622" y="557">242</text></g>
<g id="n243"><circle cx="893" cy="553" r="17.5"/><text x="893" y="553">243</text></g>
<g id="n244"><circle cx="187" cy="551" r="17.5"/><text x="187" y="551">244</text></g>
<g id="n245"><circle cx="1163" cy="548" r="17.5"/><text x="1163" y="548">245</text></g>
<g id="n246"><circle cx="459" cy="547" r="17.5"/><text x="459" y="547">246</text></g>
<g id="n247"><circle cx="729" cy="543" r="17.5"/><text x="729" y="543">247</text></g>
<g id="n248"><circle cx="999" cy="539" r="17.5"/><text x="999" y="539">248</text></g>
<g id="n249"><circle cx="295" cy="537" r="17.5"/><text x="295" y="537">249</text></g>
<g id="n250"><circle cx="565" cy="533" r="17.5"/><text x="565" y="533">250</text></g>
<g id="n251"><circle cx="835" cy="529" r="17.5"/><text x="835" y="529">251</text></g>
<g id="n252"><circle cx="1106" cy="525" r="17.5"/><text x="1106" y="525">252</text></g>
<g id="n253"><circle cx="401" cy="523" r="17.5"/><text x="401" y="523">253</text></g>
<g id="n254"><circle cx="1290" cy="522" r="17.5"/><text x="1290" y="522">254</text></g>
<g id="n255"><circle cx="672" cy="519" r="17.5"/><text x="672" y="519">255</text></g>
<g id="n256"><circle cx="942" cy="515" r="17.5"/><text x="942" y="515">256</text></g>
<g id="n257"><circle cx="236" cy="513" r="17.5"/><text x="236" y="513">257</text></g>
<g id="n258"><circle cx="1212" cy="511" r="17.5"/><text x="1212" y="511">258</text></g>
<g id="n259"><circle cx="57" cy="510" r="17.5"/><text x="57" y="510">259</text></g>
<g id="n260"><circle cx="508" cy="509" r="17.5"/><text x="508" y="509">260</text></g>
<g id="n261"><circle cx="778" cy="505" r="17.5"/><text x="778" y="505">261</text></g>
<g id="n262"><circle cx="1048" cy="501" r="17.5"/><text x="1048" y="501">262</text></g>
<g id="n263"><circle cx="344" cy="500" r="17.5"/><text x="344" y="500">263</text></g>
<g id="n264"><circle cx="117" cy="496" r="17.5"/><text x="117" y="496">264</text></g>
<g id="n265"><circle cx="615" cy="495" r="17.5"/><text x="615" y="495">265</text></g>
<g id="n266"><circle cx="885" cy="491" r="17.5"/><text x="885" y="491">266</text></g>
<g id="n267"><circle cx="179" cy="490" r="17.5"/><text x="179" y="490">267</text></g>
<g id="n268"><circle cx="1155" cy="487" r="17.5"/><text x="1155" y="487">268</text></g>
<g id="n269"><circle cx="451" cy="486" r="17.5"/><text x="451" y="486">269</text></g>
<g id="n270"><circle cx="721" cy="482" r="17.5"/><text x="721" y="482">270</text></g>
<g id="n271"><circle cx="991" cy="477" r="17.5"/><text x="991" y="477">271</text></g>
<g id="n272"><circle cx="287" cy="476" r="17.5"/><text x="287" y="476">272</text></g>
<g id="n273"><circle cx="557" cy="472" r="17.5"/><text x="557" y="472">273</text></g>
<g id="n274"><circle cx="828" cy="467" r="17.5"/><text x="828" y="467">274</text></g>
<g id="n275"><circle cx="1264" cy="466" r="17.5"/><text x="1264" y="466">275</text></g>
<g id="n276"><circle cx="1098" cy="463" r="17.5"/><text x="1098" y="463">276</text></g>
<g id="n277"><circle cx="393" cy="462" r="17.5"/><text x="393" y="462">277</text></g>
<g id="n278"><circle cx="664" cy="458" r="17.5"/><text x="664" y="458">278</text></g>
<g id="n279"><circle cx="934" cy="453" r="17.5"/><text x="934" y="453">279</text></g>
<g id="n280"><circle cx="229" cy="452" r="17.5"/><text x="229" y="452">280</text></g>
<g id="n281"><circle cx="75" cy="451" r="17.5"/><text x="75" y="451">281</text></g>
<g id="n282"><circle cx="1204" cy="449" r="17.5"/><text x="1204" y="449">282</text></g>
<g id="n283"><circle cx="500" cy="448" r="17.5"/><text x="500" y="448">283</text></g>
<g id="n284"><circle cx="770" cy="444" r="17.5"/><text x="770" y="444">284</text></g>
<g id="n285"><circle cx="143" cy="440" r="17.5"/><text x="143" y="440">285</text></g>
<g id="n286"><circle cx="1040" cy="440" r="17.5"/><text x="1040" y="440">286</text></g>
<g id="n287"><circle cx="336" cy="438" r="17.5"/><text x="336" y="438">287</text></g>
<g id="n288"><circle cx="606" cy="434" r="17.5"/><text x="606" y="434">288</text></g>
<g id="n289"><circle cx="876" cy="430" r="17.5"/><text x="876" y="430">289</text></g>
<g id="n290"><circle cx="1147" cy="426" r="17.5"/><text x="1147" y="426">290</text></g>
<g id="n291"><circle cx="442" cy="424" r="17.5"/><text x="442" y="424">291</text></g>
<g id="n292"><circle cx="712" cy="420" r="17.5"/><text x="712" y="420">292</text></g>
<g id="n293"><circle cx="983" cy="416" r="17.5"/><text x="983" y="416">293</text></g>
<g id="n294"><circle cx="279" cy="414" r="17.5"/><text x="279" y="414">294</text></g>
<g id="n295"><circle cx="549" cy="410" r="17.5"/><text x="549" y="410">295</text></g>
<g id="n296"><circle cx="1248" cy="406" r="17.5"/><text x="1248" y="406">296</text></g>
<g id="n297"><circle cx="819" cy="406" r="17.5"/><text x="819" y="406">297</text></g>
<g id="n298"><circle cx="1089" cy="402" r="17.5"/><text x="1089" y="402">298</text></g>
<g id="n299"><circle cx="385" cy="401" r="17.5"/><text x="385" y="401">299</text></g>
<g id="n300"><circle cx="656" cy="396" r="17.5"/><text x="656" y="396">300</text></g>
<g id="n301"><circle cx="100" cy="394" r="17.5"/><text x="100" y="394">301</text></g>
<g id="n302"><circle cx="926" cy="392" r="17.5"/><text x="926" y="392">302</text></g>
<g id="n303"><circle cx="222" cy="391" r="17.5"/><text x="222" y="391">303</text></g>
<g id="n304"><circle cx="491" cy="386" r="17.5"/><text x="491" y="386">304</text></g>
<g id="n305"><circle cx="1192" cy="382" r="17.5"/><text x="1192" y="382">305</text></g>
<g id="n306"><circle cx="762" cy="382" r="17.5"/><text x="762" y="382">306</text></g>
<g id="n307"><circle cx="160" cy="380" r="17.5"/><text x="160" y="380">307</text></g>
<g id="n308"><circle cx="1032" cy="378" r="17.5"/><text x="1032" y="378">308</text></g>
<g id="n309"><circle cx="327" cy="377" r="17.5"/><text x="327" y="377">309</text></g>
<g id="n310"><circle cx="598" cy="372" r="17.5"/><text x="598" y="372">310</text></g>
<g id="n311"><circle cx="868" cy="368" r="17.5"/><text x="868" y="368">311</text></g>
<g id="n312"><circle cx="434" cy="363" r="17.5"/><text x="434" y="363">312</text></g>
<g id="n313"><circle cx="704" cy="358" r="17.5"/><text x="704" y="358">313</text></g>
<g id="n314"><circle cx="975" cy="354" r="17.5"/><text x="975" y="354">314</text></g>
<g id="n315"><circle cx="268" cy="349" r="17.5"/><text x="268" y="349">315</text></g>
<g id="n316"><circle cx="541" cy="349" r="17.5"/><text x="541" y="349">316</text></g>
<g id="n317"><circle cx="811" cy="345" r="17.5"/><text x="811" y="345">317</text></g>
<g id="n318"><circle cx="1144" cy="343" r="17.5"/><text x="1144" y="343">318</text></g>
<g id="n319"><circle cx="1081" cy="340" r="17.5"/><text x="1081" y="340">319</text></g>
<g id="n320"><circle cx="377" cy="339" r="17.5"/><text x="377" y="339">320</text></g>
<g id="n321"><circle cx="647" cy="335" r="17.5"/><text x="647" y="335">321</text></g>
<g id="n322"><circle cx="203" cy="331" r="17.5"/><text x="203" y="331">322</text></g>
<g id="n323"><circle cx="917" cy="331" r="17.5"/><text x="917" y="331">323</text></g>
<g id="n324"><circle cx="483" cy="325" r="17.5"/><text x="483" y="325">324</text></g>
<g id="n325"><circle cx="1201" cy="321" r="17.5"/><text x="1201" y="321">325</text></g>
<g id="n326"><circle cx="142" cy="321" r="17.5"/><text x="142" y="321">326</text></g>
<g id="n327"><circle cx="753" cy="321" r="17.5"/><text x="753" y="321">327</text></g>
<g id="n328"><circle cx="1024" cy="317" r="17.5"/><text x="1024" y="317">328</text></g>
<g id="n329"><circle cx="319" cy="315" r="17.5"/><text x="319" y="315">329</text></g>
<g id="n330"><circle cx="590" cy="311" r="17.5"/><text x="590" y="311">330</text></g>
<g id="n331"><circle cx="860" cy="307" r="17.5"/><text x="860" y="307">331</text></g>
<g id="n332"><circle cx="426" cy="300" r="17.5"/><text x="426" y="300">332</text></g>
<g id="n333"><circle cx="696" cy="297" r="17.5"/><text x="696" y="297">333</text></g>
<g id="n334"><circle cx="966" cy="293" r="17.5"/><text x="966" y="293">334</text></g>
<g id="n335"><circle cx="533" cy="287" r="17.5"/><text x="533" y="287">335</text></g>
<g id="n336"><circle cx="803" cy="283" r="17.5"/><text x="803" y="283">336</text></g>
<g id="n337"><circle cx="1104" cy="282" r="17.5"/><text x="1104" y="282">337</text></g>
<g id="n338"><circle cx="240" cy="282" r="17.5"/><text x="240" y="282">338</text></g>
<g id="n339"><circle cx="639" cy="273" r="17.5"/><text x="639" y="273">339</text></g>
<g id="n340"><circle cx="1164" cy="271" r="17.5"/><text x="1164" y="271">340</text></g>
<g id="n341"><circle cx="178" cy="271" r="17.5"/><text x="178" y="271">341</text></g>
<g id="n342"><circle cx="362" cy="269" r="17.5"/><text x="362" y="269">342</text></g>
<g id="n343"><circle cx="911" cy="266" r="17.5"/><text x="911" y="266">343</text></g>
<g id="n344"><circle cx="475" cy="264" r="17.5"/><text x="475" y="264">344</text></g>
<g id="n345"><circle cx="746" cy="259" r="17.5"/><text x="746" y="259">345</text></g>
<g id="n346"><circle cx="1046" cy="259" r="17.5"/><text x="1046" y="259">346</text></g>
<g id="n347"><circle cx="296" cy="258" r="17.5"/><text x="296" y="258">347</text></g>
<g id="n348"><circle cx="582" cy="249" r="17.5"/><text x="582" y="249">348</text></g>
<g id="n349"><circle cx="853" cy="245" r="17.5"/><text x="853" y="245">349</text></g>
<g id="n350"><circle cx="418" cy="240" r="17.5"/><text x="418" y="240">350</text></g>
<g id="n351"><circle cx="689" cy="235" r="17.5"/><text x="689" y="235">351</text></g>
<g id="n352"><circle cx="961" cy="231" r="17.5"/><text x="961" y="231">352</text></g>
<g id="n353"><circle cx="524" cy="226" r="17.5"/><text x="524" y="226">353</text></g>
<g id="n354"><circle cx="1121" cy="223" r="17.5"/><text x="1121" y="223">354</text></g>
<g id="n355"><circle cx="223" cy="222" r="17.5"/><text x="223" y="222">355</text></g>
<g id="n356"><circle cx="795" cy="222" r="17.5"/><text x="795" y="222">356</text></g>
<g id="n357"><circle cx="631" cy="212" r="17.5"/><text x="631" y="212">357</text></g>
<g id="n358"><circle cx="903" cy="204" r="17.5"/><text x="903" y="204">358</text></g>
<g id="n359"><circle cx="1017" cy="204" r="17.5"/><text x="1017" y="204">359</text></g>
<g id="n360"><circle cx="326" cy="203" r="17.5"/><text x="326" y="203">360</text></g>
<g id="n361"><circle cx="467" cy="202" r="17.5"/><text x="467" y="202">361</text></g>
<g id="n362"><circle cx="737" cy="198" r="17.5"/><text x="737" y="198">362</text></g>
<g id="n363"><circle cx="386" cy="187" r="17.5"/><text x="386" y="187">363</text></g>
<g id="n364"><circle cx="844" cy="184" r="17.5"/><text x="844" y="184">364</text></g>
<g id="n365"><circle cx="1075" cy="181" r="17.5"/><text x="1075" y="181">365</text></g>
<g id="n366"><circle cx="269" cy="180" r="17.5"/><text x="269" y="180">366</text></g>
<g id="n367"><circle cx="581" cy="175" r="17.5"/><text x="581" y="175">367</text></g>
<g id="n368"><circle cx="966" cy="168" r="17.5"/><text x="966" y="168">368</text></g>
<g id="n369"><circle cx="520" cy="164" r="17.5"/><text x="520" y="164">369</text></g>
<g id="n370"><circle cx="787" cy="160" r="17.5"/><text x="787" y="160">370</text></g>
<g id="n371"><circle cx="637" cy="150" r="17.5"/><text x="637" y="150">371</text></g>
<g id="n372"><circle cx="435" cy="149" r="17.5"/><text x="435" y="149">372</text></g>
<g id="n373"><circle cx="700" cy="149" r="17.5"/><text x="700" y="149">373</text></g>
<g id="n374"><circle cx="1022" cy="142" r="17.5"/><text x="1022" y="142">374</text></g>
<g id="n375"><circle cx="322" cy="141" r="17.5"/><text x="322" y="141">375</text></g>
<g id="n376"><circle cx="910" cy="141" r="17.5"/><text x="910" y="141">376</text></g>
<g id="n377"><circle cx="852" cy="122" r="17.5"/><text x="852" y="122">377</text></g>
<g id="n378"><circle cx="380" cy="121" r="17.5"/><text x="380" y="121">378</text></g>
<g id="n379"><circle cx="486" cy="112" r="17.5"/><text x="486" y="112">379</text></g>
<g id="n380"><circle cx="548" cy="108" r="17.5"/><text x="548" y="108">380</text></g>
<g id="n381"><circle cx="962" cy="107" r="17.5"/><text x="962" y="107">381</text></g>
<g id="n382"><circle cx="794" cy="98" r="17.5"/><text x="794" y="98">382</text></g>
<g id="n383"><circle cx="732" cy="96" r="17.5"/><text x="732" y="96">383</text></g>
<g id="n384"><circle cx="609" cy="95" r="17.5"/><text x="609" y="95">384</text></g>
<g id="n385"><circle cx="671" cy="90" r="17.5"/><text x="671" y="90">385</text></g>
<g id="n386"><circle cx="430" cy="84" r="17.5"/><text x="430" y="84">386</text></g>
<g id="n387"><circle cx="902" cy="80" r="17.5"/><text x="902" y="80">387</text></g>
<g id="n388"><circle cx="843" cy="60" r="17.5"/><text x="843" y="60">388</text></g>
<g id="n389"><circle cx="513" cy="57" r="17.5"/><text x="513" y="57">389</text></g>
<g id="n390"><circle cx="573" cy="44" r="17.5"/><text x="573" y="44">390</text></g>
<g id="n391"><circle cx="765" cy="44" r="17.5"/><text x="765" y="44">391</text></g>
<g id="n392"><circle cx="637" cy="38" r="17.5"/><text x="637" y="38">392</text></g>
<g id="n393"><circle cx="703" cy="37" r="17.5"/><text x="703" y="37">393</text></g>
</g>
</svg>
